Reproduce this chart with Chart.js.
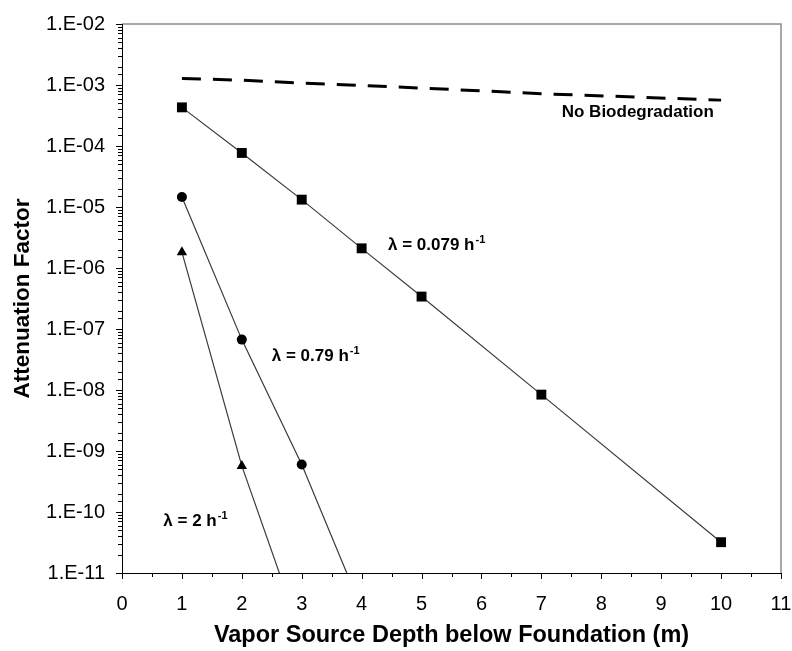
<!DOCTYPE html>
<html>
<head>
<meta charset="utf-8">
<script src="https://cdn.jsdelivr.net/npm/chart.js@4/dist/chart.umd.min.js"></script>
<style>
  html, body { margin: 0; padding: 0; background: #fff; }
  canvas { display: block; }
</style>
</head>
<body>
<canvas id="afChart" width="792" height="651"></canvas>
<script>
// ---- data ----
const depthNoBio = [1, 2, 3, 4, 5, 7, 10];
const afNoBio = [1.28e-3, 1.2e-3, 1.07e-3, 9.8e-4, 8.9e-4, 7.2e-4, 5.65e-4];

const depthL0079 = [1, 2, 3, 4, 5, 7, 10];
const afL0079 = [4.3e-4, 7.7e-5, 1.32e-5, 2.1e-6, 3.4e-7, 8.4e-9, 3.2e-11];

const depthL079 = [1, 2, 3, 4];
const afL079 = [1.46e-5, 6.7e-8, 6.0e-10, 2.6e-12];

const depthL2 = [1, 2, 3];
const afL2 = [1.82e-6, 5.7e-10, 9.0e-13];

const xTickLabels = ['0', '1', '2', '3', '4', '5', '6', '7', '8', '9', '10', '11'];
const yTickLabels = ['1.E-11', '1.E-10', '1.E-09', '1.E-08', '1.E-07', '1.E-06', '1.E-05', '1.E-04', '1.E-03', '1.E-02'];

// annotation anchors (data coords: depth, attenuation) and text
const notes = [
  { x: 7.34, y: 3.0e-4, text: 'No Biodegradation', sup: '' },
  { x: 4.44, y: 1.95e-6, text: 'λ = 0.079 h', sup: '-1' },
  { x: 2.50, y: 3.0e-8, text: 'λ = 0.79 h', sup: '-1' },
  { x: 0.69, y: 5.9e-11, text: 'λ = 2 h', sup: '-1' }
];

const FONT = "'Liberation Sans', Arial, sans-serif";

function pts(xs, ys) {
  return xs.map((x, i) => ({ x, y: ys[i] }));
}

function decadeLabel(v) {
  const e = Math.round(Math.log10(v));
  if (Math.abs(v / Math.pow(10, e) - 1) > 1e-6) return '';
  return yTickLabels.find(l => l === '1.E-' + String(-e).padStart(2, '0')) || '';
}

// ---- frame, tick marks, annotations ----
const framePlugin = {
  id: 'frame',
  afterDraw(chart) {
    const { ctx, chartArea: a, scales } = chart;
    ctx.save();
    // top + right in gray
    ctx.strokeStyle = '#8c8c8c';
    ctx.lineWidth = 1.5;
    ctx.beginPath();
    ctx.moveTo(a.left, a.top);
    ctx.lineTo(a.right, a.top);
    ctx.lineTo(a.right, a.bottom);
    ctx.stroke();
    // left + bottom axes in black
    ctx.strokeStyle = '#000';
    ctx.lineWidth = 1;
    ctx.beginPath();
    ctx.moveTo(a.left + 0.5, a.top);
    ctx.lineTo(a.left + 0.5, a.bottom + 0.5);
    ctx.lineTo(a.right, a.bottom + 0.5);
    ctx.stroke();

    // x ticks
    ctx.beginPath();
    scales.x.ticks.forEach(t => {
      const px = Math.round(scales.x.getPixelForValue(t.value)) + 0.5;
      const len = Number.isInteger(t.value) ? 6 : 4;
      ctx.moveTo(px, a.bottom);
      ctx.lineTo(px, a.bottom + len);
    });
    // y ticks
    scales.y.ticks.forEach(t => {
      const py = Math.round(scales.y.getPixelForValue(t.value)) + 0.5;
      const len = decadeLabel(t.value) ? 6 : 4;
      ctx.moveTo(a.left, py);
      ctx.lineTo(a.left - len, py);
    });
    ctx.stroke();

    // annotations
    ctx.fillStyle = '#000';
    ctx.textBaseline = 'alphabetic';
    ctx.textAlign = 'left';
    notes.forEach(n => {
      const px = scales.x.getPixelForValue(n.x);
      const py = scales.y.getPixelForValue(n.y);
      ctx.font = 'bold 17px ' + FONT;
      ctx.fillText(n.text, px, py);
      if (n.sup) {
        const w = ctx.measureText(n.text).width;
        ctx.font = 'bold 11px ' + FONT;
        ctx.fillText(n.sup, px + w + 1, py - 7);
      }
    });
    ctx.restore();
  }
};

const lineStyle = {
  borderColor: '#3a3a3a',
  backgroundColor: '#000',
  borderWidth: 1.2,
  pointBorderWidth: 0,
  fill: false,
  tension: 0
};

new Chart(document.getElementById('afChart'), {
  type: 'line',
  data: {
    datasets: [
      {
        label: 'No Biodegradation',
        data: pts(depthNoBio, afNoBio),
        borderColor: '#000',
        borderWidth: 3,
        borderDash: [19, 12],
        pointRadius: 0,
        fill: false,
        tension: 0
      },
      Object.assign({
        label: 'λ = 0.079 h-1',
        data: pts(depthL0079, afL0079),
        pointStyle: 'rect',
        pointRadius: 7
      }, lineStyle),
      Object.assign({
        label: 'λ = 0.79 h-1',
        data: pts(depthL079, afL079),
        pointStyle: 'circle',
        pointRadius: 5
      }, lineStyle),
      Object.assign({
        label: 'λ = 2 h-1',
        data: pts(depthL2, afL2),
        pointStyle: 'triangle',
        pointRadius: 6
      }, lineStyle)
    ]
  },
  options: {
    responsive: false,
    animation: false,
    layout: { padding: { top: 24, right: 0, bottom: 0, left: 0 } },
    plugins: {
      legend: { display: false },
      tooltip: { enabled: false }
    },
    scales: {
      x: {
        type: 'linear',
        min: 0,
        max: 11,
        grid: { display: false },
        border: { display: false },
        afterFit(scale) {
          scale.height = 78;
          scale.paddingRight = 11;
          scale.paddingLeft = 0;
        },
        ticks: {
          stepSize: 0.5,
          autoSkip: false,
          maxRotation: 0,
          padding: 11,
          color: '#000',
          font: { family: FONT, size: 20 },
          callback: v => Number.isInteger(v) ? xTickLabels[v] : ''
        },
        title: {
          display: true,
          text: 'Vapor Source Depth below Foundation (m)',
          color: '#000',
          font: { family: FONT, size: 23.5, weight: 'bold' },
          padding: { top: 0, bottom: 1 }
        }
      },
      y: {
        type: 'logarithmic',
        min: 1e-11,
        max: 1e-2,
        grid: { display: false },
        border: { display: false },
        afterFit(scale) { scale.width = 122; },
        ticks: {
          autoSkip: false,
          padding: 9,
          color: '#000',
          font: { family: FONT, size: 20 },
          callback: v => decadeLabel(v)
        },
        title: {
          display: true,
          text: 'Attenuation Factor',
          color: '#000',
          font: { family: FONT, size: 22.5, weight: 'bold' },
          padding: { top: 9, bottom: 0 }
        }
      }
    }
  },
  plugins: [framePlugin]
});
</script>
</body>
</html>
